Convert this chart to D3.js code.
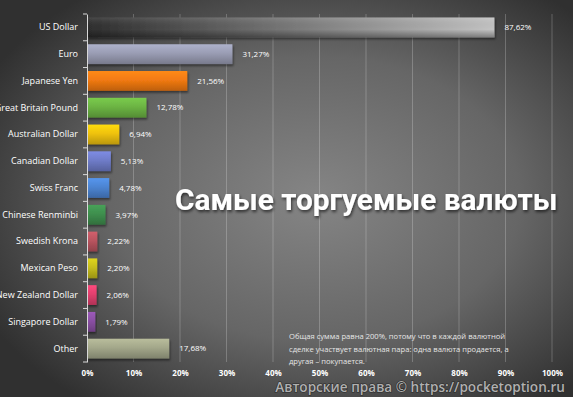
<!DOCTYPE html>
<html>
<head>
<meta charset="utf-8">
<script src="https://cdn.jsdelivr.net/npm/d3@7"></script>
<style>
body { margin: 0; background: #333; }
svg { display: block; }
</style>
</head>
<body>
<svg id="canvas" width="573" height="397"></svg>
<script>
// currencies and their share of daily volume (%)
var currencies = ["US Dollar", "Euro", "Japanese Yen", "Great Britain Pound", "Australian Dollar",
	"Canadian Dollar", "Swiss Franc", "Chinese Renminbi", "Swedish Krona", "Mexican Peso",
	"New Zealand Dollar", "Singapore Dollar", "Other"];
var shares = [87.62, 31.27, 21.56, 12.78, 6.94, 5.13, 4.78, 3.97, 2.22, 2.20, 2.06, 1.79, 17.68];
var shareLabels = ["87,62%", "31,27%", "21,56%", "12,78%", "6,94%", "5,13%", "4,78%", "3,97%",
	"2,22%", "2,20%", "2,06%", "1,79%", "17,68%"];
var barColors = ["#9a9a9a", "#9a9db4", "#f27a12", "#6cb443", "#efc20e", "#6f7cc9", "#4c84d2",
	"#3f8f4e", "#b9545f", "#c6bd1c", "#e2406e", "#8a4fa4", "#a3a78a"];
var xTicks = [0, 10, 20, 30, 40, 50, 60, 70, 80, 90, 100];
var title = "Самые торгуемые валюты";
var note = ["Общая сумма равна 200%, потому что в каждой валютной",
	"сделке участвует валютная пара: одна валюта продается, а",
	"другая – покупается."];
var watermark = "Авторские права © https://pocketoption.ru";

var svg = d3.select("#canvas");
var W = 573, H = 397;
var defs = svg.append("defs");

// background
var bg = defs.append("radialGradient").attr("id", "bg")
	.attr("cx", "55%").attr("cy", "50%").attr("r", "65%");
bg.append("stop").attr("offset", "0%").attr("stop-color", "#858585");
bg.append("stop").attr("offset", "55%").attr("stop-color", "#666");
bg.append("stop").attr("offset", "100%").attr("stop-color", "#303030");
svg.append("rect").attr("width", W).attr("height", H).attr("fill", "url(#bg)");

var x = d3.scaleLinear().domain([0, 100]).range([87, 552]);
var y = d3.scaleBand().domain(currencies).range([14, 362]).paddingInner(0.26).paddingOuter(0.13);

// gridlines
svg.append("g").selectAll("line")
	.data(xTicks.slice(1))
	.enter()
	.append("line")
		.attr("x1", function(d){ return x(d); })
		.attr("x2", function(d){ return x(d); })
		.attr("y1", 14).attr("y2", 362)
		.attr("style", "stroke: rgba(255,255,255,0.22); stroke-width: 1;");

// bar gradients
barColors.forEach(function(c, i){
	var g = defs.append("linearGradient").attr("id", "bar" + i)
		.attr("x1", 0).attr("y1", 0).attr("x2", 0).attr("y2", 1);
	var base = d3.color(c);
	g.append("stop").attr("offset", "0%").attr("stop-color", base.brighter(0.35));
	g.append("stop").attr("offset", "45%").attr("stop-color", base);
	g.append("stop").attr("offset", "100%").attr("stop-color", base.darker(0.7));
});
var usd = defs.append("linearGradient").attr("id", "usd")
	.attr("x1", 0).attr("y1", 0).attr("x2", 1).attr("y2", 0);
usd.append("stop").attr("offset", "0%").attr("stop-color", "#2e2e2e");
usd.append("stop").attr("offset", "40%").attr("stop-color", "#6a6a6a");
usd.append("stop").attr("offset", "100%").attr("stop-color", "#c4c4c4");
var usdShade = defs.append("linearGradient").attr("id", "usdShade")
	.attr("x1", 0).attr("y1", 0).attr("x2", 0).attr("y2", 1);
usdShade.append("stop").attr("offset", "0%").attr("stop-color", "#fff").attr("stop-opacity", 0.12);
usdShade.append("stop").attr("offset", "60%").attr("stop-color", "#000").attr("stop-opacity", 0);
usdShade.append("stop").attr("offset", "100%").attr("stop-color", "#000").attr("stop-opacity", 0.35);

var shadow = defs.append("filter").attr("id", "shadow")
	.attr("x", "-10%").attr("y", "-30%").attr("width", "130%").attr("height", "180%");
shadow.append("feDropShadow").attr("dx", 1).attr("dy", 2).attr("stdDeviation", 1.2)
	.attr("flood-color", "#000").attr("flood-opacity", 0.45);

var bars = svg.append("g").selectAll("g")
	.data(currencies)
	.enter()
	.append("g");

bars.append("rect")
	.attr("x", x(0))
	.attr("y", function(d){ return y(d); })
	.attr("width", function(d, i){ return x(shares[i]) - x(0); })
	.attr("height", y.bandwidth())
	.attr("fill", function(d, i){ return i == 0 ? "url(#usd)" : "url(#bar" + i + ")"; })
	.attr("filter", "url(#shadow)");
bars.filter(function(d, i){ return i == 0; })
	.append("rect")
	.attr("x", x(0))
	.attr("y", function(d){ return y(d); })
	.attr("width", x(shares[0]) - x(0))
	.attr("height", y.bandwidth())
	.attr("fill", "url(#usdShade)");

// value labels
bars.append("text")
	.attr("x", function(d, i){ return x(shares[i]) + 10; })
	.attr("y", function(d){ return y(d) + y.bandwidth() / 2; })
	.attr("dy", "0.35em")
	.attr("style", "font-family: 'Open Sans', sans-serif; font-size: 8px; fill: #fff;")
	.text(function(d, i){ return shareLabels[i]; });

// y axis
var yAxis = d3.axisLeft(y).tickSize(0).tickPadding(9);
var ya = svg.append("g").attr("transform", "translate(" + x(0) + ",0)").call(yAxis);
ya.select(".domain").attr("stroke", "#d8d8d8");
ya.selectAll("text")
	.attr("style", "font-family: 'Open Sans', sans-serif; font-size: 9px; fill: #fff;");
// separator ticks between categories
var seps = d3.range(currencies.length + 1).map(function(i){ return y.step() * i + 14 - y.step() * y.paddingInner() / 2 + y.step() * y.paddingOuter(); });
ya.selectAll(".sep")
	.data(seps)
	.enter()
	.append("line")
		.attr("class", "sep")
		.attr("x1", -4).attr("x2", 0)
		.attr("y1", function(d){ return d; })
		.attr("y2", function(d){ return d; })
		.attr("stroke", "#d8d8d8");

// x axis
var xAxis = d3.axisBottom(x).tickValues(xTicks).tickSize(0).tickPadding(8)
	.tickFormat(function(d){ return d + "%"; });
var xa = svg.append("g").attr("transform", "translate(0,362)").call(xAxis);
xa.select(".domain").remove();
xa.selectAll("text")
	.attr("style", "font-family: 'Open Sans', sans-serif; font-size: 8px; font-weight: bold; fill: #fff;");

// title
var tshadow = defs.append("filter").attr("id", "tshadow")
	.attr("x", "-5%").attr("y", "-30%").attr("width", "110%").attr("height", "160%");
tshadow.append("feDropShadow").attr("dx", 1).attr("dy", 2).attr("stdDeviation", 1.5)
	.attr("flood-color", "#000").attr("flood-opacity", 0.6);
svg.append("text")
	.attr("x", 175).attr("y", 210)
	.attr("filter", "url(#tshadow)")
	.attr("style", "font-family: Roboto, sans-serif; font-size: 29.8px; font-weight: bold; fill: #fff;")
	.text(title);

// note
svg.append("g").selectAll("text")
	.data(note)
	.enter()
	.append("text")
		.attr("x", 289)
		.attr("y", function(d, i){ return 339 + i * 12.5; })
		.attr("style", "font-family: 'Open Sans', sans-serif; font-size: 7.6px; fill: #e6e6e6;")
		.text(function(d){ return d; });

// watermark
svg.append("text")
	.attr("x", 565).attr("y", 392)
	.attr("text-anchor", "end")
	.attr("style", "font-family: 'Open Sans', sans-serif; font-size: 13.6px; font-weight: 600; fill: #b0b0b0; stroke: #2a2a2a; stroke-width: 1.2; paint-order: stroke;")
	.text(watermark);
</script>
</body>
</html>
